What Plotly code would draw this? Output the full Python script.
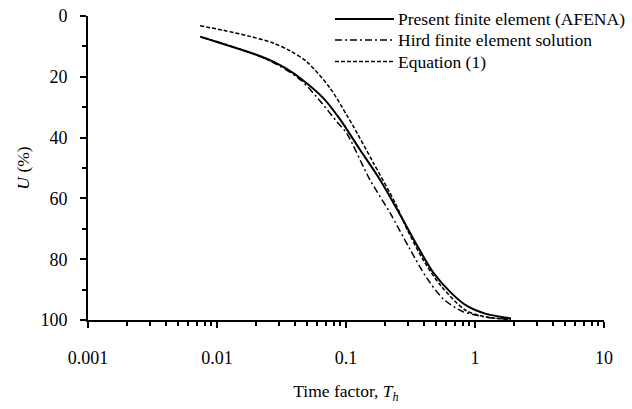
import plotly.graph_objects as go

# Present finite element (AFENA)
t_afena = [0.0074, 0.0112, 0.018, 0.0273, 0.035, 0.044, 0.0667, 0.09, 0.128, 0.183, 0.27, 0.35, 0.475, 0.65, 0.86, 1.2, 1.9]
u_afena = [6.8, 9.2, 12.0, 15.0, 17.5, 20.4, 27.0, 34.0, 43.9, 53.8, 66.3, 75.0, 84.4, 91.0, 95.3, 97.9, 99.5]

# Hird finite element solution
t_hird = [0.0075, 0.012, 0.02, 0.03, 0.045, 0.066, 0.085, 0.101, 0.153, 0.219, 0.313, 0.42, 0.568, 0.8, 1.2, 1.9]
u_hird = [6.9, 9.5, 12.8, 16.2, 21.2, 29.0, 34.8, 38.5, 53.8, 64.7, 76.7, 86.0, 93.1, 97.2, 99.0, 99.8]

# Equation (1)
t_eq = [0.0074, 0.0112, 0.018, 0.0273, 0.037, 0.0496, 0.0752, 0.101, 0.114, 0.163, 0.24, 0.30, 0.40, 0.55, 0.86, 1.3, 1.9]
u_eq = [3.2, 4.7, 6.7, 8.9, 11.5, 15.0, 23.7, 32.5, 36.3, 48.3, 61.4, 70.5, 80.5, 89.0, 97.0, 99.2, 99.8]

series_names = ["Present finite element (AFENA)", "Hird finite element solution", "Equation (1)"]

x_major = [0.001, 0.01, 0.1, 1, 10]
x_major_text = ["0.001", "0.01", "0.1", "1", "10"]
x_minor = [m * d for d in [0.001, 0.01, 0.1, 1] for m in range(2, 10)]

FONT = "Liberation Serif, Times New Roman, serif"
W, H = 632, 409
L, R, T, B = 88, 28, 16, 89
PW, PH = W - L - R, H - T - B

styles = [
    dict(color="black", width=2),
    dict(color="black", width=1.5, dash="7px,3px,2px,3px"),
    dict(color="black", width=1.5, dash="4px,2px"),
]

fig = go.Figure()
for tx, uy, nm, st in zip([t_afena, t_hird, t_eq], [u_afena, u_hird, u_eq], series_names, styles):
    fig.add_trace(go.Scatter(x=tx, y=uy, mode="lines", name=nm, showlegend=False,
                             line=dict(shape="spline", smoothing=0.8, **st)))

# custom legend (line samples + labels) in paper coordinates
def px2paper(px, py):
    return (px - L) / PW, (T + PH - py) / PH

legend_rows = [19, 40, 61.5]
shapes, annotations = [], []
for nm, st, ry in zip(series_names, styles, legend_rows):
    x0, y0 = px2paper(335, ry)
    x1, _ = px2paper(394, ry)
    shapes.append(dict(type="line", xref="paper", yref="paper", x0=x0, x1=x1, y0=y0, y1=y0,
                       line=dict(color=st["color"], width=st["width"], dash=st.get("dash", "solid"))))
    tx0, _ = px2paper(396, ry)
    annotations.append(dict(xref="paper", yref="paper", x=tx0, y=y0, xanchor="left", yanchor="middle",
                            text=nm, showarrow=False, font=dict(family=FONT, size=17.5, color="black")))

fig.update_layout(
    width=W, height=H,
    margin=dict(l=L, r=R, t=T, b=B),
    paper_bgcolor="white", plot_bgcolor="white",
    font=dict(family=FONT, size=18, color="black"),
    showlegend=False,
    shapes=shapes, annotations=annotations,
)
fig.update_xaxes(
    type="log", range=[-3, 1], automargin=False,
    tickmode="array", tickvals=x_major, ticktext=x_major_text,
    ticks="outside", ticklen=6, tickwidth=2, tickcolor="black",
    minor=dict(tickmode="array", tickvals=x_minor, ticks="outside", ticklen=4, tickwidth=1.5, tickcolor="black", showgrid=False),
    showline=True, linecolor="black", linewidth=2,
    showgrid=False, zeroline=False,
    tickfont=dict(size=18, family=FONT),
    ticklabelstandoff=14,
    title=dict(text="Time factor, <i>T<sub>h</sub></i>", font=dict(size=17.5, family=FONT), standoff=18),
)
fig.update_yaxes(
    range=[100, 0], tickmode="linear", tick0=0, dtick=20, automargin=False,
    ticks="outside", ticklen=6, tickwidth=2, tickcolor="black",
    minor=dict(dtick=10, ticks="outside", ticklen=4, tickwidth=1.5, tickcolor="black", showgrid=False),
    showline=True, linecolor="black", linewidth=2,
    showgrid=False, zeroline=False,
    tickfont=dict(size=18, family=FONT),
    ticklabelstandoff=9,
    title=dict(text="<i>U</i> (%)", font=dict(size=17.5, family=FONT), standoff=6),
)

fig.write_html("out.html", config={"displayModeBar": False},
               post_script="document.body.style.margin='0px';")
